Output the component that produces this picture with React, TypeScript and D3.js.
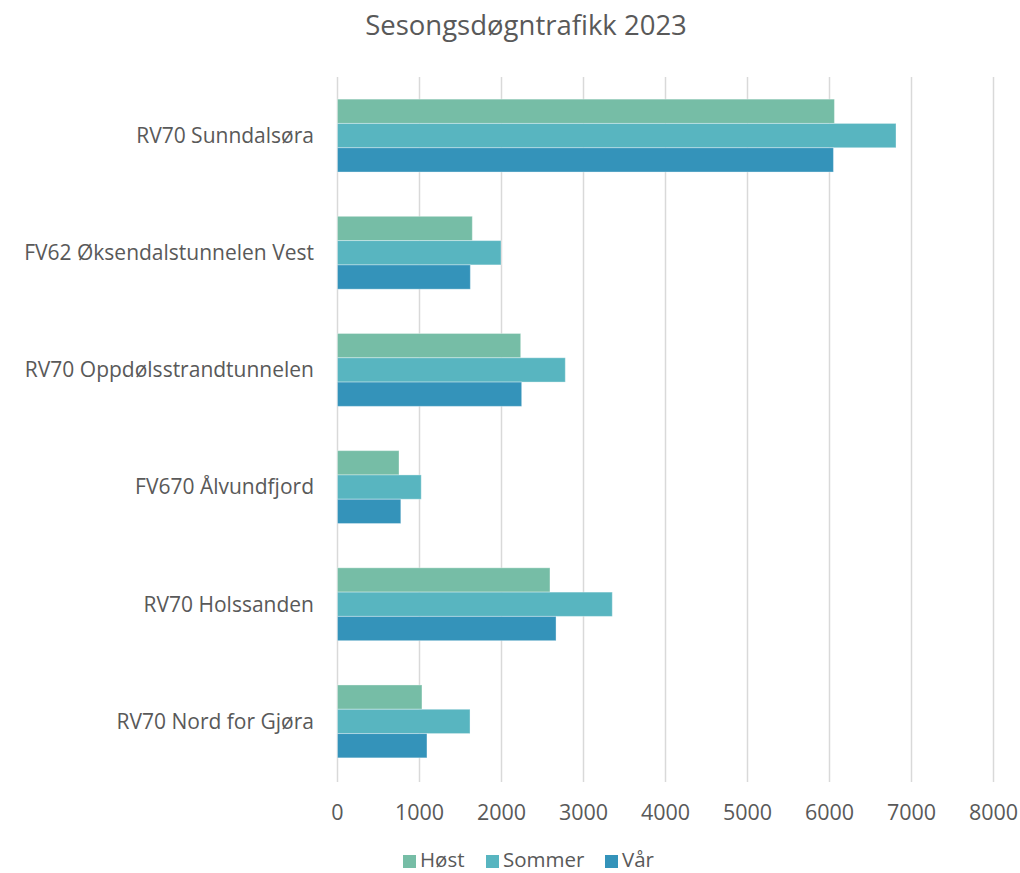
import React from "react";
import * as d3 from "d3";

const categories = [
  "RV70 Sunndalsøra",
  "FV62 Øksendalstunnelen Vest",
  "RV70 Oppdølsstrandtunnelen",
  "FV670 Ålvundfjord",
  "RV70 Holssanden",
  "RV70 Nord for Gjøra",
];
const seriesNames = ["Høst", "Sommer", "Vår"];
const host = [6060, 1644, 2234, 750, 2591, 1030];
const sommer = [6811, 1994, 2778, 1021, 3351, 1616];
const var_ = [6048, 1620, 2246, 772, 2665, 1091];
const seriesValues = [host, sommer, var_];
const colors = ["#76BDA6", "#58B5C0", "#3493BA"];
const xTicks = [0, 1000, 2000, 3000, 4000, 5000, 6000, 7000, 8000];
const title = "Sesongsdøgntrafikk 2023";

export default function App() {
  const W = 1020, H = 873;
  const left = 337.5, right = 993.5, top = 77, bottom = 780;
  const font = "'Open Sans', sans-serif";
  const textColor = "#595959";
  const x = d3.scaleLinear().domain([0, 8000]).range([left, right]);
  const y = d3.scaleBand().domain(categories).range([top, bottom]).paddingInner(0.378).paddingOuter(0.189);
  const y1 = d3.scaleBand().domain(seriesNames).range([0, y.bandwidth()]);
  const legendX = [403, 486, 605];
  return (
    <svg width={W} height={H} style={{ position: "absolute", left: 0, top: 0, background: "#fff" }}>
      <rect width={W} height={H} fill="#fff" />
      <text x={526} y={35} textAnchor="middle" fontFamily={font} fontSize={27.5} fill={textColor}>{title}</text>
      {xTicks.map((t) => (
        <line key={t} x1={x(t)} x2={x(t)} y1={top} y2={bottom + 2} stroke="#D9D9D9" strokeWidth={1.5} />
      ))}
      {categories.map((c, i) => (
        <g key={c}>
          {seriesNames.map((s, j) => (
            <rect
              key={s}
              x={x(0)}
              y={(y(c) as number) + (y1(s) as number)}
              width={x(seriesValues[j][i]) - x(0)}
              height={y1.bandwidth()}
              fill={colors[j]}
              stroke="#ffffff"
              strokeOpacity={0.35}
              strokeWidth={1}
            />
          ))}
          <text x={314} y={(y(c) as number) + y.bandwidth() / 2} dy="0.35em" textAnchor="end" fontFamily={font} fontSize={21} fill={textColor}>{c}</text>
        </g>
      ))}
      {xTicks.map((t) => (
        <text key={t} x={x(t)} y={820} textAnchor="middle" fontFamily={font} fontSize={21.5} fill={textColor}>{t}</text>
      ))}
      {seriesNames.map((s, j) => (
        <g key={s}>
          <rect x={legendX[j]} y={855} width={13} height={13} fill={colors[j]} />
          <text x={legendX[j] + 17} y={867} fontFamily={font} fontSize={20.5} fill={textColor}>{s}</text>
        </g>
      ))}
    </svg>
  );
}
